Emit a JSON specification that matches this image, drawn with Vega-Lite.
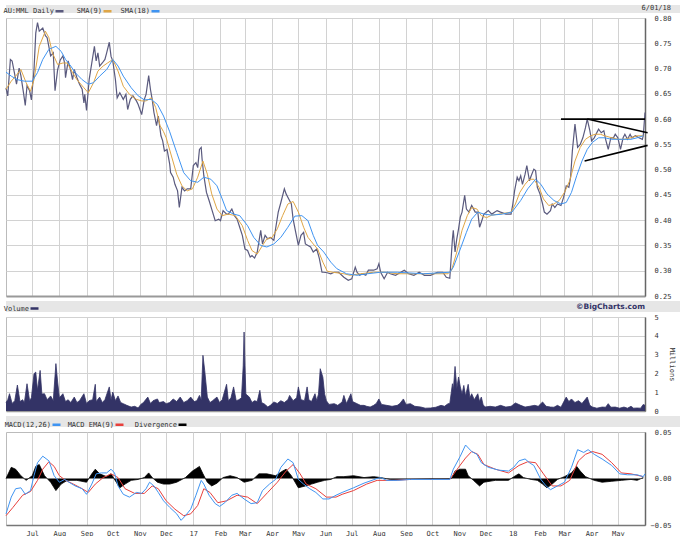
{
"$schema": "https://vega.github.io/schema/vega-lite/v6.json",
"padding": {"left": 3, "top": 3, "right": 2, "bottom": 2},
"background": "#ffffff",
"bounds": "flush",
"spacing": 5,
"resolve": {"scale": {"color": "independent"}, "legend": {"color": "independent"}},
"datasets": {
"price": [
{"d":"2016-06-01","v":0.662},{"d":"2016-06-03","v":0.646},{"d":"2016-06-06","v":0.718},{"d":"2016-06-08","v":0.715},{"d":"2016-06-11","v":0.688},{"d":"2016-06-13","v":0.669},{"d":"2016-06-16","v":0.701},{"d":"2016-06-18","v":0.686},{"d":"2016-06-21","v":0.652},{"d":"2016-06-23","v":0.627},{"d":"2016-06-25","v":0.666},{"d":"2016-06-28","v":0.656},{"d":"2016-06-30","v":0.638},
{"d":"2016-07-03","v":0.698},{"d":"2016-07-05","v":0.770},{"d":"2016-07-07","v":0.791},{"d":"2016-07-09","v":0.774},{"d":"2016-07-13","v":0.780},{"d":"2016-07-16","v":0.765},{"d":"2016-07-18","v":0.761},{"d":"2016-07-22","v":0.725},{"d":"2016-07-25","v":0.731},{"d":"2016-07-27","v":0.656},{"d":"2016-07-30","v":0.698},
{"d":"2016-08-02","v":0.717},{"d":"2016-08-05","v":0.725},{"d":"2016-08-07","v":0.711},{"d":"2016-08-08","v":0.682},{"d":"2016-08-11","v":0.715},{"d":"2016-08-14","v":0.696},{"d":"2016-08-16","v":0.678},{"d":"2016-08-18","v":0.698},{"d":"2016-08-21","v":0.682},{"d":"2016-08-24","v":0.669},{"d":"2016-08-27","v":0.659},{"d":"2016-08-29","v":0.632},{"d":"2016-08-30","v":0.649},
{"d":"2016-09-01","v":0.617},{"d":"2016-09-04","v":0.678},{"d":"2016-09-07","v":0.711},{"d":"2016-09-10","v":0.744},{"d":"2016-09-12","v":0.715},{"d":"2016-09-14","v":0.731},{"d":"2016-09-16","v":0.705},{"d":"2016-09-19","v":0.711},{"d":"2016-09-22","v":0.718},{"d":"2016-09-24","v":0.731},{"d":"2016-09-27","v":0.752},{"d":"2016-09-29","v":0.724},
{"d":"2016-10-01","v":0.715},{"d":"2016-10-04","v":0.678},{"d":"2016-10-06","v":0.642},{"d":"2016-10-09","v":0.652},{"d":"2016-10-13","v":0.639},{"d":"2016-10-16","v":0.649},{"d":"2016-10-18","v":0.619},{"d":"2016-10-21","v":0.639},{"d":"2016-10-24","v":0.646},{"d":"2016-10-28","v":0.636},{"d":"2016-10-30","v":0.629},
{"d":"2016-11-03","v":0.609},{"d":"2016-11-06","v":0.639},{"d":"2016-11-08","v":0.649},{"d":"2016-11-11","v":0.686},{"d":"2016-11-13","v":0.659},{"d":"2016-11-15","v":0.639},{"d":"2016-11-17","v":0.613},{"d":"2016-11-20","v":0.587},{"d":"2016-11-22","v":0.606},{"d":"2016-11-25","v":0.567},{"d":"2016-11-27","v":0.557},{"d":"2016-11-29","v":0.537},
{"d":"2016-12-02","v":0.540},{"d":"2016-12-05","v":0.511},{"d":"2016-12-06","v":0.494},{"d":"2016-12-09","v":0.485},{"d":"2016-12-11","v":0.471},{"d":"2016-12-14","v":0.458},{"d":"2016-12-16","v":0.425},{"d":"2016-12-19","v":0.465},{"d":"2016-12-22","v":0.458},{"d":"2016-12-25","v":0.462},{"d":"2016-12-29","v":0.462},
{"d":"2017-01-01","v":0.508},{"d":"2017-01-04","v":0.514},{"d":"2017-01-06","v":0.504},{"d":"2017-01-08","v":0.540},{"d":"2017-01-10","v":0.544},{"d":"2017-01-11","v":0.521},{"d":"2017-01-13","v":0.488},{"d":"2017-01-16","v":0.455},{"d":"2017-01-19","v":0.439},{"d":"2017-01-22","v":0.422},{"d":"2017-01-26","v":0.399},{"d":"2017-01-30","v":0.402},
{"d":"2017-02-01","v":0.399},{"d":"2017-02-04","v":0.419},{"d":"2017-02-08","v":0.412},{"d":"2017-02-10","v":0.412},{"d":"2017-02-14","v":0.422},{"d":"2017-02-17","v":0.409},{"d":"2017-02-20","v":0.402},{"d":"2017-02-23","v":0.386},{"d":"2017-02-26","v":0.370},
{"d":"2017-03-01","v":0.343},{"d":"2017-03-04","v":0.340},{"d":"2017-03-07","v":0.327},{"d":"2017-03-09","v":0.330},{"d":"2017-03-12","v":0.325},{"d":"2017-03-15","v":0.337},{"d":"2017-03-19","v":0.380},{"d":"2017-03-21","v":0.353},{"d":"2017-03-24","v":0.370},{"d":"2017-03-27","v":0.363},{"d":"2017-03-30","v":0.366},
{"d":"2017-04-03","v":0.360},{"d":"2017-04-05","v":0.383},{"d":"2017-04-08","v":0.416},{"d":"2017-04-11","v":0.435},{"d":"2017-04-15","v":0.462},{"d":"2017-04-17","v":0.452},{"d":"2017-04-20","v":0.442},{"d":"2017-04-23","v":0.432},{"d":"2017-04-25","v":0.402},{"d":"2017-04-28","v":0.376},
{"d":"2017-05-01","v":0.350},{"d":"2017-05-04","v":0.370},{"d":"2017-05-07","v":0.376},{"d":"2017-05-09","v":0.353},{"d":"2017-05-12","v":0.350},{"d":"2017-05-15","v":0.347},{"d":"2017-05-18","v":0.337},{"d":"2017-05-20","v":0.340},{"d":"2017-05-22","v":0.343},{"d":"2017-05-25","v":0.324},{"d":"2017-05-28","v":0.297},{"d":"2017-05-30","v":0.297},
{"d":"2017-06-03","v":0.296},{"d":"2017-06-07","v":0.294},{"d":"2017-06-11","v":0.297},{"d":"2017-06-16","v":0.297},{"d":"2017-06-22","v":0.287},{"d":"2017-06-27","v":0.281},
{"d":"2017-07-01","v":0.284},{"d":"2017-07-05","v":0.307},{"d":"2017-07-07","v":0.297},{"d":"2017-07-10","v":0.291},{"d":"2017-07-13","v":0.294},{"d":"2017-07-17","v":0.291},{"d":"2017-07-20","v":0.301},{"d":"2017-07-26","v":0.301},{"d":"2017-07-30","v":0.304},
{"d":"2017-08-01","v":0.314},{"d":"2017-08-03","v":0.297},{"d":"2017-08-07","v":0.284},{"d":"2017-08-11","v":0.297},{"d":"2017-08-14","v":0.294},{"d":"2017-08-20","v":0.291},{"d":"2017-08-26","v":0.297},{"d":"2017-08-30","v":0.301},
{"d":"2017-09-04","v":0.294},{"d":"2017-09-10","v":0.291},{"d":"2017-09-16","v":0.297},{"d":"2017-09-22","v":0.291},{"d":"2017-09-29","v":0.291},
{"d":"2017-10-07","v":0.297},{"d":"2017-10-13","v":0.297},{"d":"2017-10-17","v":0.287},{"d":"2017-10-21","v":0.285},{"d":"2017-10-24","v":0.363},{"d":"2017-10-25","v":0.380},{"d":"2017-10-27","v":0.337},{"d":"2017-10-29","v":0.363},{"d":"2017-10-31","v":0.383},
{"d":"2017-11-02","v":0.406},{"d":"2017-11-04","v":0.416},{"d":"2017-11-07","v":0.449},{"d":"2017-11-09","v":0.422},{"d":"2017-11-12","v":0.416},{"d":"2017-11-15","v":0.429},{"d":"2017-11-19","v":0.416},{"d":"2017-11-22","v":0.416},{"d":"2017-11-24","v":0.386},{"d":"2017-11-26","v":0.396},{"d":"2017-11-29","v":0.412},
{"d":"2017-12-04","v":0.419},{"d":"2017-12-08","v":0.412},{"d":"2017-12-14","v":0.419},{"d":"2017-12-18","v":0.416},{"d":"2017-12-24","v":0.412},{"d":"2017-12-30","v":0.412},
{"d":"2018-01-01","v":0.432},{"d":"2018-01-03","v":0.458},{"d":"2018-01-06","v":0.485},{"d":"2018-01-08","v":0.478},{"d":"2018-01-10","v":0.488},{"d":"2018-01-12","v":0.471},{"d":"2018-01-15","v":0.491},{"d":"2018-01-17","v":0.508},{"d":"2018-01-20","v":0.478},{"d":"2018-01-22","v":0.488},{"d":"2018-01-25","v":0.501},{"d":"2018-01-27","v":0.498},{"d":"2018-01-29","v":0.465},
{"d":"2018-02-01","v":0.452},{"d":"2018-02-04","v":0.432},{"d":"2018-02-06","v":0.416},{"d":"2018-02-09","v":0.412},{"d":"2018-02-13","v":0.419},{"d":"2018-02-15","v":0.432},{"d":"2018-02-18","v":0.425},{"d":"2018-02-21","v":0.432},{"d":"2018-02-25","v":0.429},{"d":"2018-02-28","v":0.445},
{"d":"2018-03-03","v":0.468},{"d":"2018-03-06","v":0.465},{"d":"2018-03-08","v":0.485},{"d":"2018-03-10","v":0.537},{"d":"2018-03-13","v":0.590},{"d":"2018-03-16","v":0.544},{"d":"2018-03-19","v":0.550},{"d":"2018-03-22","v":0.563},{"d":"2018-03-25","v":0.583},{"d":"2018-03-27","v":0.600},{"d":"2018-03-30","v":0.577},
{"d":"2018-04-01","v":0.557},{"d":"2018-04-04","v":0.563},{"d":"2018-04-06","v":0.570},{"d":"2018-04-09","v":0.580},{"d":"2018-04-12","v":0.573},{"d":"2018-04-15","v":0.577},{"d":"2018-04-17","v":0.560},{"d":"2018-04-20","v":0.540},{"d":"2018-04-23","v":0.563},{"d":"2018-04-26","v":0.563},{"d":"2018-04-28","v":0.570},
{"d":"2018-05-01","v":0.563},{"d":"2018-05-04","v":0.540},{"d":"2018-05-07","v":0.563},{"d":"2018-05-09","v":0.570},{"d":"2018-05-12","v":0.560},{"d":"2018-05-15","v":0.570},{"d":"2018-05-17","v":0.563},{"d":"2018-05-21","v":0.567},{"d":"2018-05-25","v":0.563},{"d":"2018-05-29","v":0.560},{"d":"2018-05-30","v":0.567},{"d":"2018-06-01","v":0.613}
],
"sma9": [
{"d":"2016-06-01","v":0.659},{"d":"2016-06-07","v":0.675},{"d":"2016-06-12","v":0.685},{"d":"2016-06-18","v":0.698},{"d":"2016-06-24","v":0.672},{"d":"2016-06-29","v":0.655},{"d":"2016-07-03","v":0.678},{"d":"2016-07-09","v":0.744},{"d":"2016-07-16","v":0.774},{"d":"2016-07-20","v":0.761},{"d":"2016-07-24","v":0.731},{"d":"2016-07-30","v":0.708},{"d":"2016-08-05","v":0.711},{"d":"2016-08-10","v":0.711},{"d":"2016-08-16","v":0.692},{"d":"2016-08-21","v":0.678},{"d":"2016-08-29","v":0.662},{"d":"2016-09-03","v":0.652},{"d":"2016-09-09","v":0.672},{"d":"2016-09-14","v":0.695},{"d":"2016-09-20","v":0.705},{"d":"2016-09-25","v":0.711},{"d":"2016-10-01","v":0.718},{"d":"2016-10-07","v":0.695},{"d":"2016-10-13","v":0.665},{"d":"2016-10-20","v":0.649},{"d":"2016-10-28","v":0.639},{"d":"2016-11-03","v":0.636},{"d":"2016-11-08","v":0.636},{"d":"2016-11-14","v":0.642},{"d":"2016-11-19","v":0.623},{"d":"2016-11-24","v":0.587},{"d":"2016-11-28","v":0.575},{"d":"2016-12-01","v":0.563},{"d":"2016-12-07","v":0.527},{"d":"2016-12-13","v":0.491},{"d":"2016-12-19","v":0.468},{"d":"2016-12-25","v":0.458},{"d":"2016-12-31","v":0.462},
{"d":"2017-01-06","v":0.485},{"d":"2017-01-12","v":0.517},{"d":"2017-01-17","v":0.491},{"d":"2017-01-22","v":0.452},{"d":"2017-01-28","v":0.422},{"d":"2017-02-03","v":0.409},{"d":"2017-02-10","v":0.412},{"d":"2017-02-18","v":0.409},{"d":"2017-02-26","v":0.389},{"d":"2017-03-04","v":0.360},{"d":"2017-03-09","v":0.340},{"d":"2017-03-15","v":0.333},{"d":"2017-03-21","v":0.350},{"d":"2017-03-26","v":0.363},{"d":"2017-04-01","v":0.366},{"d":"2017-04-07","v":0.383},{"d":"2017-04-13","v":0.409},{"d":"2017-04-19","v":0.432},{"d":"2017-04-25","v":0.437},{"d":"2017-05-01","v":0.416},{"d":"2017-05-07","v":0.386},{"d":"2017-05-12","v":0.366},{"d":"2017-05-18","v":0.353},{"d":"2017-05-23","v":0.343},{"d":"2017-05-29","v":0.317},{"d":"2017-06-03","v":0.299},{"d":"2017-06-09","v":0.297},{"d":"2017-06-22","v":0.294},{"d":"2017-06-29","v":0.291},{"d":"2017-07-11","v":0.294},{"d":"2017-07-26","v":0.297},{"d":"2017-08-07","v":0.297},{"d":"2017-08-22","v":0.294},{"d":"2017-09-21","v":0.294},{"d":"2017-10-19","v":0.294},{"d":"2017-10-23","v":0.301},{"d":"2017-10-29","v":0.337},{"d":"2017-11-04","v":0.380},{"d":"2017-11-10","v":0.409},{"d":"2017-11-15","v":0.425},{"d":"2017-11-21","v":0.422},{"d":"2017-11-26","v":0.409},{"d":"2017-12-02","v":0.405},{"d":"2017-12-08","v":0.410},{"d":"2017-12-16","v":0.412},{"d":"2017-12-30","v":0.416},
{"d":"2018-01-04","v":0.432},{"d":"2018-01-09","v":0.455},{"d":"2018-01-15","v":0.471},{"d":"2018-01-20","v":0.481},{"d":"2018-01-25","v":0.481},{"d":"2018-01-31","v":0.465},{"d":"2018-02-05","v":0.442},{"d":"2018-02-11","v":0.429},{"d":"2018-02-17","v":0.432},{"d":"2018-02-23","v":0.439},{"d":"2018-03-01","v":0.455},{"d":"2018-03-07","v":0.478},{"d":"2018-03-13","v":0.517},{"d":"2018-03-19","v":0.544},{"d":"2018-03-25","v":0.560},{"d":"2018-03-31","v":0.567},{"d":"2018-04-05","v":0.570},{"d":"2018-04-11","v":0.570},{"d":"2018-04-16","v":0.567},{"d":"2018-04-24","v":0.563},{"d":"2018-05-01","v":0.560},{"d":"2018-05-08","v":0.560},{"d":"2018-05-16","v":0.563},{"d":"2018-05-23","v":0.567},{"d":"2018-05-30","v":0.567}
],
"sma18": [
{"d":"2016-06-01","v":0.693},{"d":"2016-06-07","v":0.685},{"d":"2016-06-14","v":0.678},{"d":"2016-06-22","v":0.675},{"d":"2016-07-01","v":0.675},{"d":"2016-07-07","v":0.692},{"d":"2016-07-13","v":0.718},{"d":"2016-07-20","v":0.738},{"d":"2016-07-28","v":0.744},{"d":"2016-08-03","v":0.734},{"d":"2016-08-08","v":0.718},{"d":"2016-08-14","v":0.705},{"d":"2016-08-19","v":0.692},{"d":"2016-08-27","v":0.678},{"d":"2016-09-03","v":0.669},{"d":"2016-09-09","v":0.672},{"d":"2016-09-16","v":0.685},{"d":"2016-09-24","v":0.698},{"d":"2016-10-01","v":0.718},{"d":"2016-10-07","v":0.705},{"d":"2016-10-13","v":0.685},{"d":"2016-10-22","v":0.662},{"d":"2016-10-30","v":0.646},{"d":"2016-11-06","v":0.638},{"d":"2016-11-14","v":0.639},{"d":"2016-11-21","v":0.629},{"d":"2016-11-28","v":0.606},{"d":"2016-12-05","v":0.575},{"d":"2016-12-13","v":0.534},{"d":"2016-12-21","v":0.494},{"d":"2016-12-29","v":0.478},
{"d":"2017-01-06","v":0.475},{"d":"2017-01-13","v":0.485},{"d":"2017-01-21","v":0.481},{"d":"2017-01-28","v":0.468},{"d":"2017-02-03","v":0.442},{"d":"2017-02-08","v":0.419},{"d":"2017-02-16","v":0.412},{"d":"2017-02-23","v":0.409},{"d":"2017-03-04","v":0.389},{"d":"2017-03-11","v":0.366},{"d":"2017-03-19","v":0.350},{"d":"2017-03-26","v":0.347},{"d":"2017-04-03","v":0.353},{"d":"2017-04-11","v":0.366},{"d":"2017-04-19","v":0.386},{"d":"2017-04-27","v":0.408},{"d":"2017-05-05","v":0.409},{"d":"2017-05-12","v":0.399},{"d":"2017-05-18","v":0.370},{"d":"2017-05-23","v":0.350},{"d":"2017-05-30","v":0.337},{"d":"2017-06-07","v":0.317},{"d":"2017-06-14","v":0.304},{"d":"2017-06-25","v":0.294},{"d":"2017-07-07","v":0.291},{"d":"2017-07-19","v":0.294},{"d":"2017-08-03","v":0.297},{"d":"2017-08-22","v":0.297},{"d":"2017-09-21","v":0.294},{"d":"2017-10-21","v":0.297},{"d":"2017-10-25","v":0.307},{"d":"2017-11-02","v":0.343},{"d":"2017-11-09","v":0.376},{"d":"2017-11-15","v":0.402},{"d":"2017-11-22","v":0.416},{"d":"2017-11-29","v":0.412},{"d":"2017-12-08","v":0.410},{"d":"2017-12-20","v":0.412},{"d":"2017-12-31","v":0.416},
{"d":"2018-01-10","v":0.439},{"d":"2018-01-18","v":0.462},{"d":"2018-01-27","v":0.481},{"d":"2018-02-02","v":0.471},{"d":"2018-02-09","v":0.452},{"d":"2018-02-17","v":0.439},{"d":"2018-02-25","v":0.432},{"d":"2018-03-03","v":0.435},{"d":"2018-03-09","v":0.455},{"d":"2018-03-15","v":0.488},{"d":"2018-03-21","v":0.517},{"d":"2018-03-27","v":0.540},{"d":"2018-04-02","v":0.554},{"d":"2018-04-09","v":0.563},{"d":"2018-04-16","v":0.563},{"d":"2018-04-24","v":0.560},{"d":"2018-05-01","v":0.560},{"d":"2018-05-08","v":0.560},{"d":"2018-05-16","v":0.560},{"d":"2018-05-23","v":0.563},{"d":"2018-05-30","v":0.567}
],
"trend": [
{"g":"h","d":"2018-02-25","v":0.600},{"g":"h","d":"2018-06-01","v":0.600},
{"g":"u","d":"2018-03-27","v":0.600},{"g":"u","d":"2018-06-04","v":0.573},
{"g":"l","d":"2018-03-24","v":0.517},{"g":"l","d":"2018-06-04","v":0.548}
],
"vol": [
{"d":"2016-06-01","m":0.45},{"d":"2016-06-03","m":0.60},{"d":"2016-06-05","m":0.92},{"d":"2016-06-08","m":0.40},{"d":"2016-06-11","m":0.55},{"d":"2016-06-14","m":1.38},{"d":"2016-06-17","m":0.50},{"d":"2016-06-20","m":0.60},{"d":"2016-06-22","m":0.45},{"d":"2016-06-25","m":1.45},{"d":"2016-06-28","m":0.55},{"d":"2016-06-30","m":0.70},
{"d":"2016-07-03","m":1.98},{"d":"2016-07-05","m":2.07},{"d":"2016-07-07","m":1.10},{"d":"2016-07-10","m":2.16},{"d":"2016-07-12","m":0.90},{"d":"2016-07-15","m":0.92},{"d":"2016-07-18","m":0.60},{"d":"2016-07-22","m":0.80},{"d":"2016-07-25","m":0.55},{"d":"2016-07-28","m":2.52},{"d":"2016-07-30","m":1.54},
{"d":"2016-08-01","m":0.70},{"d":"2016-08-05","m":0.92},{"d":"2016-08-08","m":0.50},{"d":"2016-08-11","m":0.60},{"d":"2016-08-14","m":0.45},{"d":"2016-08-18","m":0.74},{"d":"2016-08-21","m":0.45},{"d":"2016-08-24","m":0.55},{"d":"2016-08-29","m":0.92},
{"d":"2016-09-01","m":0.40},{"d":"2016-09-04","m":0.55},{"d":"2016-09-08","m":0.60},{"d":"2016-09-11","m":1.42},{"d":"2016-09-12","m":0.50},{"d":"2016-09-16","m":0.74},{"d":"2016-09-19","m":0.45},{"d":"2016-09-22","m":0.60},{"d":"2016-09-27","m":1.28},{"d":"2016-09-29","m":0.60},
{"d":"2016-10-01","m":1.01},{"d":"2016-10-04","m":0.55},{"d":"2016-10-07","m":0.80},{"d":"2016-10-10","m":0.45},{"d":"2016-10-13","m":0.39},{"d":"2016-10-17","m":0.30},{"d":"2016-10-22","m":0.21},{"d":"2016-10-26","m":0.25},{"d":"2016-10-30","m":0.16},
{"d":"2016-11-02","m":0.35},{"d":"2016-11-05","m":0.45},{"d":"2016-11-10","m":0.74},{"d":"2016-11-13","m":0.40},{"d":"2016-11-16","m":0.55},{"d":"2016-11-21","m":0.64},{"d":"2016-11-23","m":0.45},{"d":"2016-11-28","m":0.50},
{"d":"2016-12-01","m":0.39},{"d":"2016-12-05","m":0.45},{"d":"2016-12-09","m":0.64},{"d":"2016-12-13","m":0.50},{"d":"2016-12-17","m":0.74},{"d":"2016-12-21","m":0.45},{"d":"2016-12-25","m":0.55},{"d":"2016-12-29","m":0.74},
{"d":"2017-01-02","m":0.50},{"d":"2017-01-05","m":0.55},{"d":"2017-01-08","m":0.83},{"d":"2017-01-10","m":0.60},{"d":"2017-01-12","m":2.96},{"d":"2017-01-14","m":2.16},{"d":"2017-01-17","m":0.74},{"d":"2017-01-20","m":0.45},{"d":"2017-01-23","m":0.55},{"d":"2017-01-28","m":0.74},{"d":"2017-01-31","m":0.45},
{"d":"2017-02-03","m":0.60},{"d":"2017-02-08","m":1.42},{"d":"2017-02-10","m":0.55},{"d":"2017-02-13","m":0.70},{"d":"2017-02-16","m":1.28},{"d":"2017-02-19","m":0.55},{"d":"2017-02-22","m":0.60},{"d":"2017-02-25","m":0.70},{"d":"2017-02-27","m":2.40},{"d":"2017-02-28","m":4.20},
{"d":"2017-03-01","m":2.43},{"d":"2017-03-02","m":0.90},{"d":"2017-03-06","m":0.74},{"d":"2017-03-09","m":0.45},{"d":"2017-03-12","m":0.55},{"d":"2017-03-15","m":0.50},{"d":"2017-03-18","m":1.10},{"d":"2017-03-20","m":0.45},{"d":"2017-03-24","m":0.35},{"d":"2017-03-27","m":0.21},{"d":"2017-03-30","m":0.30},
{"d":"2017-04-03","m":0.48},{"d":"2017-04-07","m":0.40},{"d":"2017-04-11","m":0.55},{"d":"2017-04-15","m":0.45},{"d":"2017-04-19","m":0.60},{"d":"2017-04-21","m":0.83},{"d":"2017-04-25","m":0.55},{"d":"2017-04-29","m":0.70},
{"d":"2017-05-01","m":1.28},{"d":"2017-05-04","m":0.60},{"d":"2017-05-08","m":0.55},{"d":"2017-05-11","m":1.28},{"d":"2017-05-13","m":0.60},{"d":"2017-05-16","m":0.50},{"d":"2017-05-20","m":0.92},{"d":"2017-05-22","m":0.55},{"d":"2017-05-24","m":0.90},{"d":"2017-05-26","m":2.25},{"d":"2017-05-29","m":1.80},{"d":"2017-05-31","m":0.90},
{"d":"2017-06-02","m":0.55},{"d":"2017-06-05","m":0.35},{"d":"2017-06-11","m":0.39},{"d":"2017-06-15","m":0.30},{"d":"2017-06-20","m":0.48},{"d":"2017-06-22","m":0.83},{"d":"2017-06-25","m":0.40},{"d":"2017-06-30","m":0.92},
{"d":"2017-07-02","m":0.50},{"d":"2017-07-07","m":0.39},{"d":"2017-07-11","m":0.30},{"d":"2017-07-15","m":0.30},{"d":"2017-07-18","m":0.25},{"d":"2017-07-22","m":0.21},{"d":"2017-07-26","m":0.30},{"d":"2017-07-29","m":0.40},
{"d":"2017-08-01","m":0.64},{"d":"2017-08-04","m":0.35},{"d":"2017-08-10","m":0.30},{"d":"2017-08-16","m":0.25},{"d":"2017-08-22","m":0.30},{"d":"2017-08-25","m":0.40},{"d":"2017-08-29","m":0.64},
{"d":"2017-09-01","m":0.35},{"d":"2017-09-06","m":0.39},{"d":"2017-09-11","m":0.25},{"d":"2017-09-18","m":0.21},{"d":"2017-09-23","m":0.15},{"d":"2017-09-29","m":0.16},
{"d":"2017-10-05","m":0.20},{"d":"2017-10-11","m":0.30},{"d":"2017-10-15","m":0.25},{"d":"2017-10-19","m":0.39},{"d":"2017-10-21","m":0.40},{"d":"2017-10-24","m":1.45},{"d":"2017-10-25","m":1.10},{"d":"2017-10-27","m":2.37},{"d":"2017-10-29","m":1.20},{"d":"2017-10-31","m":1.81},
{"d":"2017-11-02","m":1.28},{"d":"2017-11-04","m":0.90},{"d":"2017-11-06","m":1.36},{"d":"2017-11-08","m":0.80},{"d":"2017-11-11","m":1.42},{"d":"2017-11-13","m":0.70},{"d":"2017-11-15","m":0.92},{"d":"2017-11-18","m":0.60},{"d":"2017-11-22","m":0.92},{"d":"2017-11-24","m":0.50},{"d":"2017-11-26","m":0.74},{"d":"2017-11-28","m":0.35},{"d":"2017-11-30","m":0.21},
{"d":"2017-12-06","m":0.25},{"d":"2017-12-12","m":0.21},{"d":"2017-12-18","m":0.30},{"d":"2017-12-24","m":0.21},{"d":"2017-12-30","m":0.25},
{"d":"2018-01-04","m":0.43},{"d":"2018-01-10","m":0.30},{"d":"2018-01-15","m":0.21},{"d":"2018-01-20","m":0.25},{"d":"2018-01-26","m":0.30},{"d":"2018-01-30","m":0.25},
{"d":"2018-02-04","m":0.48},{"d":"2018-02-08","m":0.25},{"d":"2018-02-13","m":0.21},{"d":"2018-02-17","m":0.20},{"d":"2018-02-21","m":0.30},{"d":"2018-02-25","m":0.20},
{"d":"2018-03-03","m":0.74},{"d":"2018-03-06","m":0.50},{"d":"2018-03-09","m":0.64},{"d":"2018-03-13","m":0.45},{"d":"2018-03-17","m":0.55},{"d":"2018-03-21","m":0.40},{"d":"2018-03-27","m":0.74},{"d":"2018-03-30","m":0.30},
{"d":"2018-04-02","m":0.21},{"d":"2018-04-07","m":0.15},{"d":"2018-04-13","m":0.21},{"d":"2018-04-17","m":0.20},{"d":"2018-04-20","m":0.39},{"d":"2018-04-23","m":0.20},{"d":"2018-04-28","m":0.21},
{"d":"2018-05-03","m":0.15},{"d":"2018-05-08","m":0.21},{"d":"2018-05-12","m":0.15},{"d":"2018-05-16","m":0.25},{"d":"2018-05-19","m":0.15},{"d":"2018-05-23","m":0.16},{"d":"2018-05-27","m":0.15},{"d":"2018-05-30","m":0.35},{"d":"2018-06-01","m":0.30}
],
"macd": [
{"d":"2016-06-01","v":-0.038},{"d":"2016-06-07","v":-0.020},{"d":"2016-06-12","v":-0.011},{"d":"2016-06-18","v":-0.010},{"d":"2016-06-23","v":-0.017},{"d":"2016-06-29","v":-0.013},{"d":"2016-07-03","v":0.003},{"d":"2016-07-07","v":0.017},{"d":"2016-07-13","v":0.024},{"d":"2016-07-20","v":0.019},{"d":"2016-07-26","v":0.003},{"d":"2016-08-01","v":-0.004},{"d":"2016-08-07","v":-0.001},{"d":"2016-08-12","v":-0.004},{"d":"2016-08-19","v":-0.008},{"d":"2016-08-27","v":-0.011},{"d":"2016-09-01","v":-0.017},{"d":"2016-09-07","v":-0.006},{"d":"2016-09-12","v":0.005},{"d":"2016-09-18","v":0.006},{"d":"2016-09-24","v":0.006},{"d":"2016-09-29","v":0.010},{"d":"2016-10-03","v":0.006},{"d":"2016-10-07","v":-0.008},{"d":"2016-10-13","v":-0.017},{"d":"2016-10-20","v":-0.020},{"d":"2016-10-28","v":-0.015},{"d":"2016-11-03","v":-0.016},{"d":"2016-11-08","v":-0.011},{"d":"2016-11-12","v":-0.004},{"d":"2016-11-17","v":-0.008},{"d":"2016-11-22","v":-0.015},{"d":"2016-11-28","v":-0.024},{"d":"2016-12-05","v":-0.031},{"d":"2016-12-13","v":-0.038},{"d":"2016-12-18","v":-0.045},{"d":"2016-12-23","v":-0.040},{"d":"2016-12-29","v":-0.033},
{"d":"2017-01-04","v":-0.018},{"d":"2017-01-10","v":-0.002},{"d":"2017-01-13","v":-0.006},{"d":"2017-01-19","v":-0.018},{"d":"2017-01-26","v":-0.027},{"d":"2017-01-31","v":-0.030},{"d":"2017-02-06","v":-0.026},{"d":"2017-02-14","v":-0.018},{"d":"2017-02-20","v":-0.016},{"d":"2017-02-28","v":-0.022},{"d":"2017-03-08","v":-0.027},{"d":"2017-03-15","v":-0.026},{"d":"2017-03-21","v":-0.013},{"d":"2017-03-29","v":-0.006},{"d":"2017-04-05","v":-0.001},{"d":"2017-04-11","v":0.012},{"d":"2017-04-19","v":0.021},{"d":"2017-04-25","v":0.017},{"d":"2017-05-01","v":-0.001},{"d":"2017-05-07","v":-0.006},{"d":"2017-05-14","v":-0.011},{"d":"2017-05-21","v":-0.015},{"d":"2017-05-29","v":-0.022},{"d":"2017-06-05","v":-0.022},{"d":"2017-06-13","v":-0.018},{"d":"2017-06-20","v":-0.015},{"d":"2017-07-03","v":-0.010},{"d":"2017-07-15","v":-0.005},{"d":"2017-07-30","v":0.000},{"d":"2017-08-03","v":0.001},{"d":"2017-08-10","v":-0.002},{"d":"2017-08-22","v":-0.002},{"d":"2017-09-06","v":-0.001},{"d":"2017-09-29","v":-0.001},{"d":"2017-10-21","v":-0.001},{"d":"2017-10-25","v":0.010},{"d":"2017-11-02","v":0.024},{"d":"2017-11-08","v":0.036},{"d":"2017-11-15","v":0.029},{"d":"2017-11-21","v":0.026},{"d":"2017-11-26","v":0.017},{"d":"2017-12-04","v":0.012},{"d":"2017-12-16","v":0.009},{"d":"2017-12-27","v":0.008},
{"d":"2018-01-02","v":0.012},{"d":"2018-01-08","v":0.019},{"d":"2018-01-15","v":0.021},{"d":"2018-01-20","v":0.017},{"d":"2018-01-25","v":0.014},{"d":"2018-02-02","v":-0.001},{"d":"2018-02-08","v":-0.008},{"d":"2018-02-13","v":-0.012},{"d":"2018-02-21","v":-0.008},{"d":"2018-03-01","v":-0.004},{"d":"2018-03-09","v":0.012},{"d":"2018-03-16","v":0.031},{"d":"2018-03-23","v":0.028},{"d":"2018-03-28","v":0.031},{"d":"2018-04-04","v":0.026},{"d":"2018-04-13","v":0.021},{"d":"2018-04-24","v":0.014},{"d":"2018-05-03","v":0.005},{"d":"2018-05-12","v":0.004},{"d":"2018-05-23","v":0.004},{"d":"2018-05-30","v":0.002},{"d":"2018-06-01","v":0.005}
],
"sig": [
{"d":"2016-06-01","v":-0.040},{"d":"2016-06-09","v":-0.031},{"d":"2016-06-20","v":-0.018},{"d":"2016-06-29","v":-0.014},{"d":"2016-07-07","v":-0.002},{"d":"2016-07-13","v":0.010},{"d":"2016-07-20","v":0.018},{"d":"2016-07-26","v":0.013},{"d":"2016-08-01","v":0.003},{"d":"2016-08-08","v":-0.002},{"d":"2016-08-17","v":-0.006},{"d":"2016-08-27","v":-0.011},{"d":"2016-09-03","v":-0.015},{"d":"2016-09-11","v":-0.006},{"d":"2016-09-20","v":0.001},{"d":"2016-09-29","v":0.005},{"d":"2016-10-07","v":0.001},{"d":"2016-10-15","v":-0.011},{"d":"2016-10-26","v":-0.016},{"d":"2016-11-06","v":-0.016},{"d":"2016-11-15","v":-0.008},{"d":"2016-11-22","v":-0.011},{"d":"2016-12-01","v":-0.024},{"d":"2016-12-11","v":-0.033},{"d":"2016-12-21","v":-0.040},{"d":"2016-12-29","v":-0.038},
{"d":"2017-01-06","v":-0.029},{"d":"2017-01-13","v":-0.011},{"d":"2017-01-20","v":-0.015},{"d":"2017-01-29","v":-0.026},{"d":"2017-02-08","v":-0.024},{"d":"2017-02-20","v":-0.018},{"d":"2017-03-04","v":-0.020},{"d":"2017-03-15","v":-0.027},{"d":"2017-03-27","v":-0.015},{"d":"2017-04-07","v":-0.004},{"d":"2017-04-17","v":0.008},{"d":"2017-04-25","v":0.015},{"d":"2017-05-03","v":0.005},{"d":"2017-05-10","v":-0.006},{"d":"2017-05-21","v":-0.011},{"d":"2017-06-02","v":-0.020},{"d":"2017-06-13","v":-0.020},{"d":"2017-06-20","v":-0.017},{"d":"2017-07-03","v":-0.013},{"d":"2017-07-18","v":-0.006},{"d":"2017-07-30","v":-0.002},{"d":"2017-08-18","v":-0.002},{"d":"2017-09-06","v":-0.001},{"d":"2017-10-21","v":-0.001},{"d":"2017-10-31","v":0.012},{"d":"2017-11-08","v":0.022},{"d":"2017-11-15","v":0.029},{"d":"2017-11-22","v":0.026},{"d":"2017-11-29","v":0.015},{"d":"2017-12-12","v":0.010},{"d":"2017-12-27","v":0.006},
{"d":"2018-01-08","v":0.014},{"d":"2018-01-18","v":0.018},{"d":"2018-01-27","v":0.017},{"d":"2018-02-05","v":0.005},{"d":"2018-02-15","v":-0.008},{"d":"2018-02-25","v":-0.008},{"d":"2018-03-07","v":-0.002},{"d":"2018-03-17","v":0.019},{"d":"2018-03-25","v":0.026},{"d":"2018-04-02","v":0.029},{"d":"2018-04-13","v":0.026},{"d":"2018-04-24","v":0.017},{"d":"2018-05-05","v":0.006},{"d":"2018-05-16","v":0.005},{"d":"2018-05-30","v":0.002}
],
"div": [
{"d":"2016-06-01","v":0.000},{"d":"2016-06-07","v":0.012},{"d":"2016-06-12","v":0.010},{"d":"2016-06-18","v":0.003},{"d":"2016-06-24","v":-0.002},{"d":"2016-07-01","v":0.003},{"d":"2016-07-05","v":0.013},{"d":"2016-07-09","v":0.015},{"d":"2016-07-15","v":0.003},{"d":"2016-07-22","v":-0.004},{"d":"2016-07-28","v":-0.013},{"d":"2016-08-03","v":-0.006},{"d":"2016-08-10","v":-0.002},{"d":"2016-08-21","v":-0.002},{"d":"2016-09-01","v":-0.004},{"d":"2016-09-07","v":0.005},{"d":"2016-09-11","v":0.010},{"d":"2016-09-16","v":0.005},{"d":"2016-09-24","v":0.002},{"d":"2016-09-29","v":0.005},{"d":"2016-10-05","v":-0.004},{"d":"2016-10-09","v":-0.010},{"d":"2016-10-15","v":-0.006},{"d":"2016-10-22","v":-0.002},{"d":"2016-10-30","v":-0.001},{"d":"2016-11-06","v":0.001},{"d":"2016-11-11","v":0.006},{"d":"2016-11-15","v":0.001},{"d":"2016-11-21","v":-0.004},{"d":"2016-11-28","v":-0.006},{"d":"2016-12-05","v":-0.006},{"d":"2016-12-13","v":-0.004},{"d":"2016-12-23","v":0.001},{"d":"2016-12-31","v":0.008},
{"d":"2017-01-08","v":0.013},{"d":"2017-01-12","v":0.005},{"d":"2017-01-17","v":-0.004},{"d":"2017-01-22","v":-0.008},{"d":"2017-01-28","v":-0.005},{"d":"2017-02-04","v":0.001},{"d":"2017-02-12","v":0.003},{"d":"2017-02-20","v":0.001},{"d":"2017-02-28","v":-0.004},{"d":"2017-03-09","v":-0.002},{"d":"2017-03-17","v":0.005},{"d":"2017-03-26","v":0.005},{"d":"2017-04-05","v":0.003},{"d":"2017-04-13","v":0.008},{"d":"2017-04-17","v":0.010},{"d":"2017-04-23","v":0.003},{"d":"2017-05-01","v":-0.010},{"d":"2017-05-09","v":-0.008},{"d":"2017-05-16","v":-0.006},{"d":"2017-05-23","v":-0.004},{"d":"2017-05-31","v":-0.002},{"d":"2017-06-07","v":-0.001},{"d":"2017-06-14","v":0.002},{"d":"2017-06-22","v":0.002},{"d":"2017-07-03","v":0.003},{"d":"2017-07-15","v":0.001},{"d":"2017-07-26","v":0.002},{"d":"2017-08-03","v":0.001},{"d":"2017-08-14","v":-0.001},{"d":"2017-09-06","v":-0.001},{"d":"2017-10-23","v":0.000},{"d":"2017-10-27","v":0.008},{"d":"2017-11-02","v":0.010},{"d":"2017-11-08","v":0.010},{"d":"2017-11-11","v":0.003},{"d":"2017-11-17","v":-0.002},{"d":"2017-11-24","v":-0.008},{"d":"2017-11-29","v":-0.004},{"d":"2017-12-12","v":-0.002},{"d":"2017-12-27","v":-0.002},
{"d":"2018-01-04","v":0.003},{"d":"2018-01-08","v":0.005},{"d":"2018-01-13","v":0.001},{"d":"2018-01-22","v":-0.001},{"d":"2018-01-29","v":-0.002},{"d":"2018-02-04","v":-0.006},{"d":"2018-02-09","v":-0.010},{"d":"2018-02-15","v":-0.006},{"d":"2018-02-21","v":-0.001},{"d":"2018-03-01","v":0.002},{"d":"2018-03-09","v":0.006},{"d":"2018-03-15","v":0.013},{"d":"2018-03-19","v":0.008},{"d":"2018-03-25","v":0.002},{"d":"2018-04-04","v":-0.002},{"d":"2018-04-13","v":-0.004},{"d":"2018-04-24","v":-0.003},{"d":"2018-05-05","v":-0.002},{"d":"2018-05-16","v":-0.001},{"d":"2018-05-23","v":-0.002},{"d":"2018-05-30","v":0.001}
]
},
"vconcat": [
{
"width": 675, "height": 8,
"view": {"fill": "#e6e6e6", "stroke": null},
"title": {"text": "6/01/18", "orient": "top", "anchor": "end", "frame": "group", "offset": -8, "dx": -10, "font": "DejaVu Sans Mono", "fontSize": 7, "fontWeight": "normal", "color": "#333333"},
"data": {"values": [{}]},
"mark": "text",
"encoding": {"text": {"value": ""}}
},
{
"width": 639, "height": 278,
"encoding": {
"x": {"field": "d", "type": "temporal",
"scale": {"type": "utc", "domain": [{"year":2016,"month":6,"date":1,"utc":true},{"year":2018,"month":6,"date":1,"utc":true}]},
"axis": {"title": null, "labels": false, "ticks": false, "grid": true, "domainColor": "#999999", "domainWidth": 2,
"values": [{"year":2016,"month":7,"date":1,"utc":true},{"year":2016,"month":8,"date":1,"utc":true},{"year":2016,"month":9,"date":1,"utc":true},{"year":2016,"month":10,"date":1,"utc":true},{"year":2016,"month":11,"date":1,"utc":true},{"year":2016,"month":12,"date":1,"utc":true},{"year":2017,"month":1,"date":1,"utc":true},{"year":2017,"month":2,"date":1,"utc":true},{"year":2017,"month":3,"date":1,"utc":true},{"year":2017,"month":4,"date":1,"utc":true},{"year":2017,"month":5,"date":1,"utc":true},{"year":2017,"month":6,"date":1,"utc":true},{"year":2017,"month":7,"date":1,"utc":true},{"year":2017,"month":8,"date":1,"utc":true},{"year":2017,"month":9,"date":1,"utc":true},{"year":2017,"month":10,"date":1,"utc":true},{"year":2017,"month":11,"date":1,"utc":true},{"year":2017,"month":12,"date":1,"utc":true},{"year":2018,"month":1,"date":1,"utc":true},{"year":2018,"month":2,"date":1,"utc":true},{"year":2018,"month":3,"date":1,"utc":true},{"year":2018,"month":4,"date":1,"utc":true},{"year":2018,"month":5,"date":1,"utc":true}]}},
"y": {"field": "v", "type": "quantitative", "scale": {"domain": [0.25, 0.8], "nice": false, "zero": false},
"axis": {"orient": "right", "title": null, "values": [0.25,0.3,0.35,0.4,0.45,0.5,0.55,0.6,0.65,0.7,0.75,0.8], "format": ".2f", "labelOverlap": false, "labelBound": false, "labelFlush": false, "grid": true, "ticks": false, "labelPadding": 9, "domainColor": "#666666", "domainWidth": 1.5}}
},
"layer": [
{"data": {"name": "price"}, "mark": {"type": "line", "strokeWidth": 1.2},
"encoding": {
"color": {"datum": "AU:MML Daily", "type": "nominal",
"scale": {"domain": ["AU:MML Daily", "SMA(9)", "SMA(18)"], "range": ["#5a5a7e", "#dfa646", "#3f94f2"]},
"legend": {"orient": "none", "legendX": 48, "legendY": -12.5, "direction": "horizontal", "title": null, "labelAlign": "right", "labelOffset": -11, "gridAlign": "all", "columnPadding": 3}}
}},
{"data": {"name": "sma9"}, "mark": {"type": "line", "strokeWidth": 1},
"encoding": {"color": {"datum": "SMA(9)", "type": "nominal"}}},
{"data": {"name": "sma18"}, "mark": {"type": "line", "strokeWidth": 1},
"encoding": {"color": {"datum": "SMA(18)", "type": "nominal"}}},
{"data": {"name": "trend"}, "mark": {"type": "line", "color": "#000000", "strokeWidth": 1.6},
"encoding": {"detail": {"field": "g", "type": "nominal"}}}
]
},
{
"width": 675, "height": 11,
"view": {"fill": "#e6e6e6", "stroke": null},
"title": {"text": "©BigCharts.com", "orient": "top", "anchor": "end", "frame": "group", "offset": -10, "dx": -36, "font": "DejaVu Sans", "fontSize": 7.5, "fontWeight": "bold", "color": "#333366"},
"data": {"values": [{}]},
"mark": "text",
"encoding": {"text": {"value": ""}}
},
{
"width": 639, "height": 94,
"data": {"name": "vol"},
"encoding": {
"x": {"field": "d", "type": "temporal",
"scale": {"type": "utc", "domain": [{"year":2016,"month":6,"date":1,"utc":true},{"year":2018,"month":6,"date":1,"utc":true}]},
"axis": {"title": null, "labels": false, "ticks": false, "grid": true, "domainColor": "#999999", "domainWidth": 1.5,
"values": [{"year":2016,"month":7,"date":1,"utc":true},{"year":2016,"month":8,"date":1,"utc":true},{"year":2016,"month":9,"date":1,"utc":true},{"year":2016,"month":10,"date":1,"utc":true},{"year":2016,"month":11,"date":1,"utc":true},{"year":2016,"month":12,"date":1,"utc":true},{"year":2017,"month":1,"date":1,"utc":true},{"year":2017,"month":2,"date":1,"utc":true},{"year":2017,"month":3,"date":1,"utc":true},{"year":2017,"month":4,"date":1,"utc":true},{"year":2017,"month":5,"date":1,"utc":true},{"year":2017,"month":6,"date":1,"utc":true},{"year":2017,"month":7,"date":1,"utc":true},{"year":2017,"month":8,"date":1,"utc":true},{"year":2017,"month":9,"date":1,"utc":true},{"year":2017,"month":10,"date":1,"utc":true},{"year":2017,"month":11,"date":1,"utc":true},{"year":2017,"month":12,"date":1,"utc":true},{"year":2018,"month":1,"date":1,"utc":true},{"year":2018,"month":2,"date":1,"utc":true},{"year":2018,"month":3,"date":1,"utc":true},{"year":2018,"month":4,"date":1,"utc":true},{"year":2018,"month":5,"date":1,"utc":true}]}},
"y": {"field": "m", "type": "quantitative", "scale": {"domain": [0, 5], "nice": false},
"axis": {"orient": "right", "title": "Millions", "titlePadding": 10, "values": [0,1,2,3,4,5], "format": "d", "labelOverlap": false, "grid": true, "ticks": false, "labelPadding": 9, "domainColor": "#666666", "domainWidth": 1.5}}
},
"layer": [
{"mark": {"type": "area", "color": "#333366", "interpolate": "linear"}},
{"mark": {"type": "line", "strokeWidth": 0.8},
"encoding": {"color": {"datum": "Volume", "type": "nominal", "scale": {"domain": ["Volume"], "range": ["#333366"]},
"legend": {"orient": "none", "legendX": 23, "legendY": -14, "direction": "horizontal", "title": null, "labelAlign": "right", "labelOffset": -11}}}}
]
},
{
"width": 675, "height": 11,
"view": {"fill": "#e6e6e6", "stroke": null},
"data": {"values": [{}]},
"mark": "text",
"encoding": {"text": {"value": ""}}
},
{
"width": 639, "height": 93,
"encoding": {
"x": {"field": "d", "type": "temporal",
"scale": {"type": "utc", "domain": [{"year":2016,"month":6,"date":1,"utc":true},{"year":2018,"month":6,"date":1,"utc":true}]},
"axis": {"title": null, "ticks": false, "grid": true, "domainColor": "#777777", "domainWidth": 1.5, "labelPadding": 4,
"labelExpr": "utcFormat(datum.value, '%m') == '01' ? utcFormat(datum.value, '%y') : utcFormat(datum.value, '%b')",
"values": [{"year":2016,"month":7,"date":1,"utc":true},{"year":2016,"month":8,"date":1,"utc":true},{"year":2016,"month":9,"date":1,"utc":true},{"year":2016,"month":10,"date":1,"utc":true},{"year":2016,"month":11,"date":1,"utc":true},{"year":2016,"month":12,"date":1,"utc":true},{"year":2017,"month":1,"date":1,"utc":true},{"year":2017,"month":2,"date":1,"utc":true},{"year":2017,"month":3,"date":1,"utc":true},{"year":2017,"month":4,"date":1,"utc":true},{"year":2017,"month":5,"date":1,"utc":true},{"year":2017,"month":6,"date":1,"utc":true},{"year":2017,"month":7,"date":1,"utc":true},{"year":2017,"month":8,"date":1,"utc":true},{"year":2017,"month":9,"date":1,"utc":true},{"year":2017,"month":10,"date":1,"utc":true},{"year":2017,"month":11,"date":1,"utc":true},{"year":2017,"month":12,"date":1,"utc":true},{"year":2018,"month":1,"date":1,"utc":true},{"year":2018,"month":2,"date":1,"utc":true},{"year":2018,"month":3,"date":1,"utc":true},{"year":2018,"month":4,"date":1,"utc":true},{"year":2018,"month":5,"date":1,"utc":true}]}},
"y": {"field": "v", "type": "quantitative", "scale": {"domain": [-0.05, 0.05], "nice": false},
"axis": {"orient": "right", "title": null, "values": [-0.05, 0, 0.05], "format": ".2f", "labelOverlap": false, "grid": false, "ticks": false, "labelAlign": "right", "labelPadding": 26, "domainColor": "#666666", "domainWidth": 1.5}}
},
"layer": [
{"data": {"name": "div"}, "mark": {"type": "area", "color": "#000000", "interpolate": "linear"}},
{"data": {"name": "div"}, "mark": {"type": "line", "strokeWidth": 0.8},
"encoding": {
"color": {"datum": "Divergence", "type": "nominal",
"scale": {"domain": ["MACD(12,26)", "MACD EMA(9)", "Divergence"], "range": ["#3f94f2", "#e8403c", "#000000"]},
"legend": {"orient": "none", "legendX": 45, "legendY": -13, "direction": "horizontal", "title": null, "labelAlign": "right", "labelOffset": -11, "gridAlign": "all", "columnPadding": 1}}}},
{"data": {"values": [{"v": 0}]}, "mark": {"type": "rule", "color": "#000000", "strokeWidth": 1.6}},
{"data": {"name": "sig"}, "mark": {"type": "line", "strokeWidth": 1},
"encoding": {"color": {"datum": "MACD EMA(9)", "type": "nominal"}}},
{"data": {"name": "macd"}, "mark": {"type": "line", "strokeWidth": 1},
"encoding": {"color": {"datum": "MACD(12,26)", "type": "nominal"}}}
]
}
],
"config": {
"font": "DejaVu Sans Mono",
"view": {"stroke": "#bbbbbb"},
"axis": {"labelFont": "DejaVu Sans Mono", "labelFontSize": 7, "labelColor": "#333333", "gridColor": "#d2d2d2", "gridWidth": 1, "titleFont": "DejaVu Sans Mono", "titleFontSize": 7, "titleFontWeight": "normal", "titleColor": "#333333"},
"legend": {"labelFont": "DejaVu Sans Mono", "labelFontSize": 7, "labelColor": "#333333", "symbolType": "stroke", "symbolSize": 64, "symbolStrokeWidth": 2.5, "padding": 0, "rowPadding": 0}
}
}
